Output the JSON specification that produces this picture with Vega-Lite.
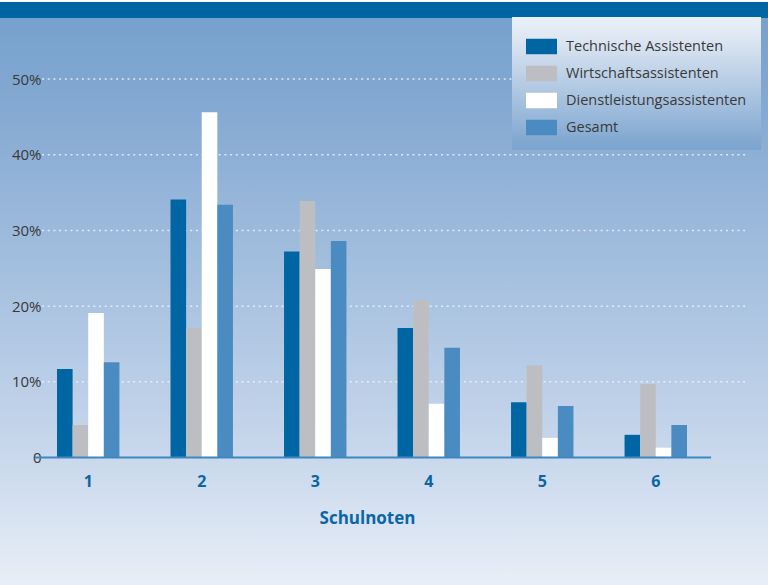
{
  "$schema": "https://vega.github.io/schema/vega-lite/v6.json",
  "width": 768,
  "height": 585,
  "autosize": "none",
  "padding": 0,
  "background": "#e8eef7",
  "config": {
    "font": "Open Sans",
    "view": {
      "stroke": null,
      "fill": {
        "gradient": "linear", "x1": 0, "y1": 0, "x2": 0, "y2": 1,
        "stops": [
          {"offset": 0, "color": "#ffffff"},
          {"offset": 0.0034, "color": "#ffffff"},
          {"offset": 0.0035, "color": "#0066a3"},
          {"offset": 0.030, "color": "#0066a3"},
          {"offset": 0.0301, "color": "#76a1cc"},
          {"offset": 0.2, "color": "#86aad3"},
          {"offset": 0.5, "color": "#a8c2e0"},
          {"offset": 0.78, "color": "#c9d8ec"},
          {"offset": 1, "color": "#e8eef7"}
        ]
      }
    },
    "axisX": {
      "offset": -127.5,
      "domain": false,
      "ticks": false,
      "tickSize": 0,
      "grid": false,
      "labelAngle": 0,
      "labelPadding": 16,
      "labelFontSize": 16,
      "labelFontWeight": "bold",
      "labelColor": "#0a66a6",
      "titleFontSize": 17,
      "titleFontWeight": "bold",
      "titleColor": "#0a66a6",
      "titlePadding": 21,
      "titleX": 367,
      "titleAlign": "center"
    },
    "axisY": {
      "offset": -41,
      "domain": false,
      "ticks": false,
      "tickSize": 0,
      "grid": false,
      "labelPadding": 0,
      "labelFontSize": 15,
      "labelColor": "#3a3a3a"
    }
  },
  "layer": [
    {
      "data": {"values": [{"v": 10}, {"v": 20}, {"v": 30}, {"v": 40}, {"v": 50}]},
      "mark": {"type": "rule", "stroke": "#eef3fa", "strokeWidth": 1.5, "strokeDash": [2, 3.7], "opacity": 0.85},
      "encoding": {
        "x": {"datum": "1", "type": "nominal", "bandPosition": -0.24, "title": "Schulnoten"},
        "x2": {"datum": "6", "bandPosition": 1.98},
        "y": {"field": "v", "type": "quantitative", "title": null, "scale": {"domain": [-16.84, 60.44], "nice": false, "zero": false}}
      }
    },
    {
      "data": {
        "values": [
          {"note": "1", "gruppe": "Technische Assistenten", "value": 11.7},
          {"note": "1", "gruppe": "Wirtschaftsassistenten", "value": 4.3},
          {"note": "1", "gruppe": "Dienstleistungsassistenten", "value": 19.1},
          {"note": "1", "gruppe": "Gesamt", "value": 12.6},
          {"note": "2", "gruppe": "Technische Assistenten", "value": 34.1},
          {"note": "2", "gruppe": "Wirtschaftsassistenten", "value": 17.1},
          {"note": "2", "gruppe": "Dienstleistungsassistenten", "value": 45.6},
          {"note": "2", "gruppe": "Gesamt", "value": 33.4},
          {"note": "3", "gruppe": "Technische Assistenten", "value": 27.2},
          {"note": "3", "gruppe": "Wirtschaftsassistenten", "value": 33.9},
          {"note": "3", "gruppe": "Dienstleistungsassistenten", "value": 24.9},
          {"note": "3", "gruppe": "Gesamt", "value": 28.6},
          {"note": "4", "gruppe": "Technische Assistenten", "value": 17.1},
          {"note": "4", "gruppe": "Wirtschaftsassistenten", "value": 20.8},
          {"note": "4", "gruppe": "Dienstleistungsassistenten", "value": 7.1},
          {"note": "4", "gruppe": "Gesamt", "value": 14.5},
          {"note": "5", "gruppe": "Technische Assistenten", "value": 7.3},
          {"note": "5", "gruppe": "Wirtschaftsassistenten", "value": 12.2},
          {"note": "5", "gruppe": "Dienstleistungsassistenten", "value": 2.6},
          {"note": "5", "gruppe": "Gesamt", "value": 6.8},
          {"note": "6", "gruppe": "Technische Assistenten", "value": 3.0},
          {"note": "6", "gruppe": "Wirtschaftsassistenten", "value": 9.7},
          {"note": "6", "gruppe": "Dienstleistungsassistenten", "value": 1.3},
          {"note": "6", "gruppe": "Gesamt", "value": 4.3}
        ]
      },
      "mark": {"type": "bar", "strokeWidth": 0},
      "encoding": {
        "x": {
          "field": "note", "type": "nominal", "title": "Schulnoten",
          "scale": {"domain": ["1", "2", "3", "4", "5", "6"], "paddingInner": 0.45, "paddingOuter": 0.608, "align": 0.413}
        },
        "xOffset": {
          "field": "gruppe", "type": "nominal",
          "scale": {"domain": ["Technische Assistenten", "Wirtschaftsassistenten", "Dienstleistungsassistenten", "Gesamt"], "paddingInner": 0, "paddingOuter": 0}
        },
        "y": {
          "field": "value", "type": "quantitative", "title": null,
          "scale": {"domain": [-16.84, 60.44], "nice": false, "zero": false},
          "axis": {"values": [0, 10, 20, 30, 40, 50], "labelExpr": "datum.value == 0 ? '0\u2003' : datum.value + '%'"}
        },
        "color": {
          "field": "gruppe", "type": "nominal",
          "scale": {
            "domain": ["Technische Assistenten", "Wirtschaftsassistenten", "Dienstleistungsassistenten", "Gesamt"],
            "range": ["#0066a3", "#bdbec2", "#ffffff", "#4a8cc2"]
          },
          "legend": {
            "orient": "none",
            "legendX": 512,
            "legendY": 17,
            "title": null,
            "padding": 14,
            "rowPadding": 3,
            "symbolType": "M-1,-0.5H1V0.5H-1Z",
            "symbolSize": 961,
            "symbolStrokeWidth": 0,
            "symbolOpacity": 1,
            "labelOffset": 9,
            "labelFontSize": 14.5,
            "labelLimit": 300,
            "labelColor": "#3a3a3a",
            "labelFont": "Open Sans",
            "fillColor": {"value": {
              "gradient": "linear", "x1": 0, "y1": 0, "x2": 0, "y2": 1,
              "stops": [
                {"offset": 0, "color": "#eaf0f8"},
                {"offset": 0.15, "color": "#dfe8f3"},
                {"offset": 1, "color": "#7aa3ce"}
              ]
            }}
          }
        }
      }
    },
    {
      "data": {"values": [{"v": 0}]},
      "mark": {"type": "rule", "stroke": "#3f87c0", "strokeWidth": 2},
      "encoding": {
        "x": {"datum": "1", "type": "nominal", "bandPosition": -0.353, "title": "Schulnoten"},
        "x2": {"datum": "6", "bandPosition": 1.386},
        "y": {"field": "v", "type": "quantitative", "title": null, "scale": {"domain": [-16.84, 60.44], "nice": false, "zero": false}}
      }
    }
  ]
}
